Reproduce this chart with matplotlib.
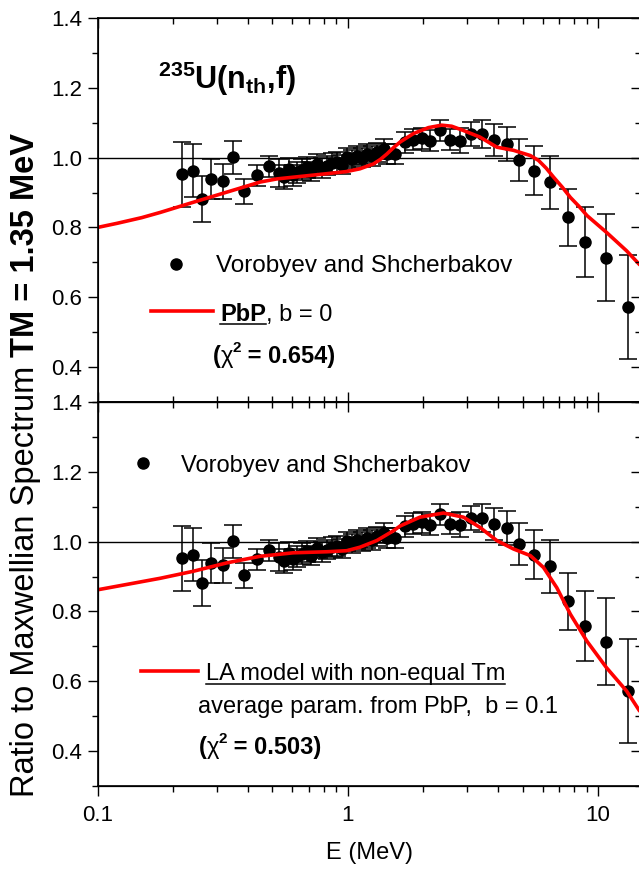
import numpy as np
import matplotlib
matplotlib.use('Agg')
import matplotlib.pyplot as plt
import matplotlib.transforms as mtransforms
from matplotlib.ticker import FixedLocator, NullFormatter, FuncFormatter

plt.rcParams['font.family'] = ['Liberation Sans', 'DejaVu Sans']
plt.rcParams['mathtext.fontset'] = 'custom'
plt.rcParams['mathtext.rm'] = 'Liberation Sans'
plt.rcParams['mathtext.bf'] = 'Liberation Sans:bold'
plt.rcParams['mathtext.it'] = 'Liberation Sans:italic'

# Vorobyev and Shcherbakov data (ratio to Maxwellian, TM = 1.35 MeV)
E_exp = [0.218, 0.240, 0.262, 0.284, 0.316, 0.347, 0.385, 0.432, 0.483, 0.529,
         0.555, 0.580, 0.602, 0.624, 0.655, 0.684, 0.715, 0.750, 0.788, 0.826,
         0.865, 0.905, 0.950, 0.993, 1.04, 1.088, 1.14, 1.194, 1.25, 1.309,
         1.39, 1.434, 1.548, 1.696, 1.826, 1.977, 2.134, 2.326, 2.567, 2.813,
         3.103, 3.452, 3.855, 4.320, 4.838, 5.569, 6.434, 7.608, 8.873, 10.73, 13.14]
R_exp = [0.952, 0.963, 0.882, 0.939, 0.932, 1.001, 0.903, 0.949, 0.975, 0.955,
         0.945, 0.968, 0.950, 0.958, 0.965, 0.972, 0.960, 0.982, 0.970, 0.977,
         0.985, 0.987, 0.980, 1.001, 0.995, 1.006, 1.000, 1.010, 1.005, 1.015,
         1.025, 1.010, 1.011, 1.044, 1.051, 1.056, 1.049, 1.079, 1.051, 1.049,
         1.068, 1.068, 1.051, 1.039, 0.994, 0.963, 0.929, 0.829, 0.758, 0.713, 0.572]
dR_exp = [0.092, 0.075, 0.065, 0.057, 0.050, 0.047, 0.035, 0.030, 0.030, 0.040,
          0.035, 0.030, 0.030, 0.030, 0.030, 0.030, 0.028, 0.028, 0.028, 0.028,
          0.028, 0.028, 0.028, 0.028, 0.028, 0.028, 0.028, 0.028, 0.028, 0.028,
          0.028, 0.028, 0.028, 0.030, 0.030, 0.030, 0.030, 0.030, 0.030, 0.035,
          0.035, 0.040, 0.045, 0.050, 0.060, 0.070, 0.077, 0.082, 0.100, 0.125, 0.150]

# PbP, b = 0
E_pbp = [0.1, 0.12, 0.15, 0.178, 0.241, 0.328, 0.446, 0.52, 0.606, 0.824, 0.985,
         1.118, 1.266, 1.35, 1.43, 1.53, 1.62, 1.83, 2.1, 2.37, 2.6, 2.89, 3.37,
         3.94, 4.59, 5.36, 5.78, 6.2, 6.64, 7.2, 7.75, 8.4, 9.03, 10.8, 13.0, 14.8]
R_pbp = [0.800, 0.812, 0.828, 0.843, 0.872, 0.901, 0.930, 0.939, 0.944, 0.954, 0.960,
         0.968, 0.982, 0.995, 1.010, 1.030, 1.045, 1.069, 1.086, 1.093, 1.090, 1.078, 1.059,
         1.030, 1.021, 1.006, 0.992, 0.970, 0.944, 0.915, 0.886, 0.860, 0.834, 0.786, 0.733, 0.690]

# LA model with non-equal Tm, b = 0.1
E_la = [0.1, 0.13, 0.178, 0.241, 0.328, 0.446, 0.605, 0.824, 0.99, 1.118, 1.305,
        1.52, 1.62, 1.94, 2.41, 2.90, 3.37, 3.94, 4.59, 5.36, 6.05, 6.84, 7.75,
        9.02, 10.8, 13.0, 14.8]
R_la = [0.862, 0.877, 0.895, 0.915, 0.939, 0.958, 0.968, 0.971, 0.974, 0.984, 1.003,
        1.031, 1.045, 1.070, 1.082, 1.070, 1.041, 1.003, 0.979, 0.960, 0.926, 0.868, 0.792,
        0.715, 0.639, 0.572, 0.510]

yticks = [0.4, 0.6, 0.8, 1.0, 1.2, 1.4]
yminor = [0.3, 0.5, 0.7, 0.9, 1.1, 1.3]
xticks = [0.1, 1, 10]
xminor = [k * 10.0 ** d for d in (-1, 0, 1) for k in range(2, 10)]

fig = plt.figure(figsize=(6.39, 8.74), dpi=100)
L, W, H = 97.5 / 639, 543 / 639, 384 / 874
XMAX = 10 ** (543 / 250.3 - 1)
ax1 = fig.add_axes([L, 1 - 402 / 874, W, H])
ax2 = fig.add_axes([L, 1 - 786 / 874, W, H])

for ax, E_m, R_m in ((ax1, E_pbp, R_pbp), (ax2, E_la, R_la)):
    ax.axhline(1.0, color='black', lw=1.0, zorder=1)
    ax.errorbar(E_exp, R_exp, yerr=dR_exp, fmt='o', color='black', ms=8,
                capsize=6.5, elinewidth=1.1, capthick=1.1, zorder=2)
    ax.plot(E_m, R_m, color='#ff0000', lw=2.6, zorder=3, solid_capstyle='butt')


def ticks_x(a):
    a.set_xscale('log')
    a.set_xlim(0.1, XMAX)
    a.xaxis.set_major_locator(FixedLocator(xticks))
    a.xaxis.set_minor_locator(FixedLocator(xminor))
    a.xaxis.set_major_formatter(FuncFormatter(lambda v, p: '%g' % v))
    a.xaxis.set_minor_formatter(NullFormatter())


def ticks_y(a):
    a.set_ylim(0.3, 1.4)
    a.yaxis.set_major_locator(FixedLocator(yticks))
    a.yaxis.set_minor_locator(FixedLocator(yminor))
    a.yaxis.set_major_formatter(FuncFormatter(lambda v, p: '%.1f' % v))


def setup(ax, show_x):
    ticks_x(ax)
    ticks_y(ax)
    # right ticks pointing in
    axr = ax.twinx()
    ticks_y(axr)
    axr.tick_params(axis='y', which='both', direction='in', labelright=False, width=1.0)
    axr.tick_params(axis='y', which='major', length=7.5)
    axr.tick_params(axis='y', which='minor', length=4.5)
    if show_x:
        axt = ax.twiny()
        ticks_x(axt)
        axt.tick_params(axis='x', which='both', direction='in', labeltop=False, width=1.0)
        axt.tick_params(axis='x', which='major', length=7.5)
        axt.tick_params(axis='x', which='minor', length=4.5)
    ticks_x(ax)
    ticks_y(ax)
    for s in ax.spines.values():
        s.set_linewidth(1.2)
    ax.tick_params(axis='y', which='both', direction='out', left=True, right=False,
                   labelsize=16, width=1.0)
    ax.tick_params(axis='y', which='major', length=7.5)
    ax.tick_params(axis='y', which='minor', length=4.5)
    if show_x:
        ax.tick_params(axis='x', which='both', direction='out', bottom=True, top=False,
                       labelbottom=True, labelsize=16, width=1.0, pad=6)
    else:
        ax.tick_params(axis='x', which='both', direction='in', bottom=True, top=True,
                       labelbottom=False, width=1.0)
    ax.tick_params(axis='x', which='major', length=7.5)
    ax.tick_params(axis='x', which='minor', length=4.5)


setup(ax1, False)
setup(ax2, True)

ax2.set_xlabel('E (MeV)', fontsize=17, labelpad=12)

renderer = fig.canvas.get_renderer()


def chain(ax, x, y, pieces, underline=()):
    # pieces: (text, fontsize, weight, dy_points)
    for i, (s, fs, wt, dy) in enumerate(pieces):
        tr = mtransforms.offset_copy(ax.transAxes, fig=fig, x=0, y=dy, units='points')
        t = ax.text(x, y, s, transform=tr, va='baseline', ha='left',
                    fontsize=fs, fontweight=wt)
        bb = t.get_window_extent(renderer)
        if i in underline:
            yb = ax.transAxes.transform((0, y))[1] - 3.5
            p0 = ax.transAxes.inverted().transform((bb.x0, yb))
            p1 = ax.transAxes.inverted().transform((bb.x1, yb))
            ax.plot([p0[0], p1[0]], [p0[1], p1[1]], color='black', lw=1.1,
                    transform=ax.transAxes, clip_on=False)
        x = ax.transAxes.inverted().transform((bb.x1, bb.y0))[0]


# top panel annotations
ax1.text(0.1114, 0.815, r'$\mathbf{{}^{235}U(n_{th}{,}f)}$', transform=ax1.transAxes,
         fontsize=22, va='baseline', ha='left')
ax1.plot([0.1442], [0.3586], 'o', color='black', ms=8, transform=ax1.transAxes, clip_on=False)
ax1.text(0.2182, 0.339, 'Vorobyev and Shcherbakov', transform=ax1.transAxes,
         fontsize=17.5, va='baseline')
ax1.plot([0.0985, 0.2118], [0.237, 0.237], color='#ff0000', lw=2.6, transform=ax1.transAxes)
chain(ax1, 0.2256, 0.2115, [('PbP', 17, 'bold', 0), (', b = 0', 17, 'normal', 0)],
      underline=(0,))
chain(ax1, 0.2118, 0.102, [('(', 17, 'bold', 0), ('\u03c7', 17, 'normal', 0),
                           ('2', 11, 'bold', 8), (' = 0.654)', 17, 'bold', 0)])

# bottom panel annotations
ax2.plot([0.0829], [0.841], 'o', color='black', ms=8, transform=ax2.transAxes, clip_on=False)
ax2.text(0.1538, 0.818, 'Vorobyev and Shcherbakov', transform=ax2.transAxes,
         fontsize=17, va='baseline')
ax2.plot([0.0797, 0.186], [0.2995, 0.2995], color='#ff0000', lw=2.6, transform=ax2.transAxes)
chain(ax2, 0.1998, 0.276, [('LA model with non-equal Tm', 17, 'normal', 0)], underline=(0,))
ax2.text(0.1847, 0.1909, 'average param. from PbP,  b = 0.1', transform=ax2.transAxes,
         fontsize=17, va='baseline')
chain(ax2, 0.186, 0.0833, [('(', 17, 'bold', 0), ('\u03c7', 17, 'normal', 0),
                           ('2', 11, 'bold', 8), (' = 0.503)', 17, 'bold', 0)])

# y label: normal part followed by bold part, rotated
ylab_x = 34 / 639
y0 = 1 - 797 / 874
t1 = fig.text(ylab_x, y0, 'Ratio to Maxwellian Spectrum ', rotation=90,
              rotation_mode='anchor', ha='left', va='baseline', fontsize=23.5)
bb = t1.get_window_extent(renderer)
y1 = fig.transFigure.inverted().transform((0, bb.y1))[1]
fig.text(ylab_x, y1, 'TM = 1.35 MeV', rotation=90, rotation_mode='anchor',
         ha='left', va='baseline', fontsize=23.5, fontweight='bold')

fig.savefig('out.png', dpi=100)
